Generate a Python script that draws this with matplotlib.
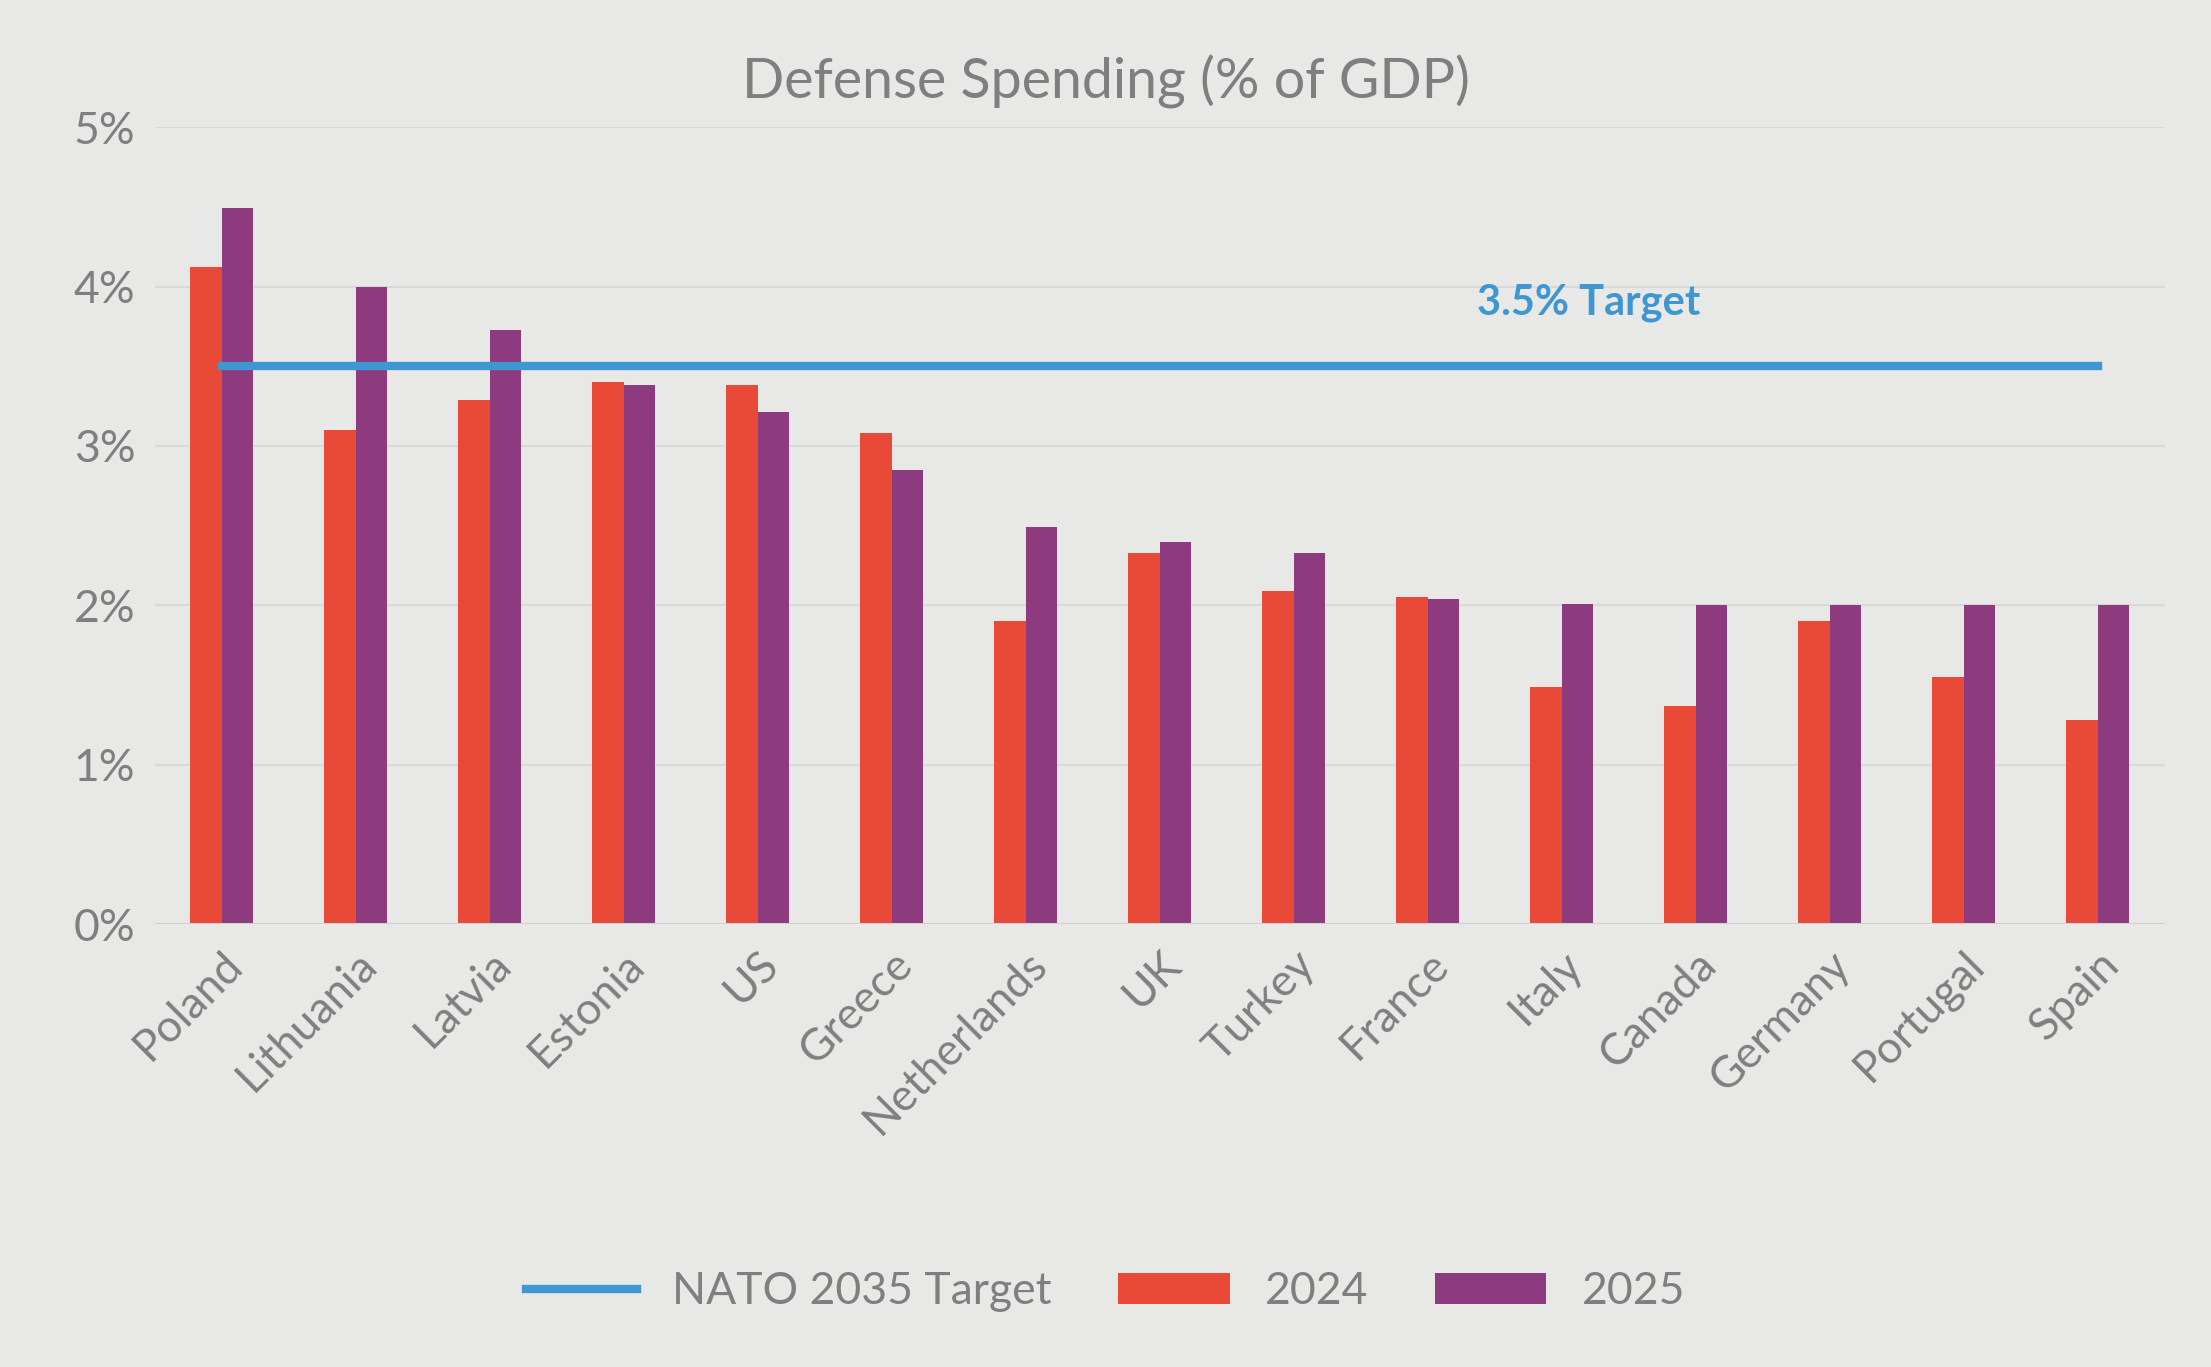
import matplotlib
matplotlib.use("Agg")
import matplotlib.pyplot as plt
import numpy as np

countries = ["Poland", "Lithuania", "Latvia", "Estonia", "US", "Greece", "Netherlands",
             "UK", "Turkey", "France", "Italy", "Canada", "Germany", "Portugal", "Spain"]
y2024 = [4.12, 3.10, 3.29, 3.40, 3.38, 3.08, 1.90, 2.33, 2.09, 2.05, 1.49, 1.37, 1.90, 1.55, 1.28]
y2025 = [4.49, 4.00, 3.73, 3.38, 3.21, 2.85, 2.49, 2.40, 2.33, 2.04, 2.01, 2.00, 2.00, 2.00, 2.00]
target = 3.5

BG, GREY = "#E8E8E6", "#7F7F7F"
RED, PURPLE, BLUE = "#E84A37", "#8E3A7F", "#3E97D1"
plt.rcParams["font.family"] = ["Lato", "DejaVu Sans"]

fig = plt.figure(figsize=(22.11, 13.67), dpi=100, facecolor=BG)
ax = fig.add_axes([0.070, 0.324, 0.909, 0.583], facecolor=BG)
x = np.arange(len(countries))
w = 0.235
ax.bar(x - w / 2, y2024, w, color=RED, label="2024")
ax.bar(x + w / 2, y2025, w, color=PURPLE, label="2025")
ax.plot([x[0], x[-1]], [target, target], color=BLUE, lw=6, label="NATO 2035 Target")
ax.text(10.2, 3.9, "3.5% Target", color=BLUE, fontsize=30, fontweight="bold", ha="center", va="center")

ax.set_xlim(-0.5, 14.5)
ax.set_ylim(0, 5)
ax.set_yticks(np.arange(0, 6))
ax.set_yticklabels([f"{i}%" for i in range(6)], fontsize=32, color=GREY)
ax.set_xticks(x)
ax.set_xticklabels(countries, rotation=45, ha="right", rotation_mode="anchor", fontsize=32, color=GREY)
ax.tick_params(length=0, pad=14)
ax.grid(axis="y", color="#D9D9D9", lw=1.5)
ax.set_axisbelow(True)
for s in ax.spines.values():
    s.set_visible(False)
ax.axhline(0, color="#D0D0D0", lw=1.5)

fig.text(0.5, 0.94, "Defense Spending (% of GDP)", ha="center", va="center", fontsize=40, color=GREY)
fig.legend(loc="center", bbox_to_anchor=(0.5, 0.055), ncol=3, frameon=False, fontsize=32,
           labelcolor=GREY, handlelength=2.5, columnspacing=1.5)
fig.savefig("out.png", dpi=100, facecolor=BG)
